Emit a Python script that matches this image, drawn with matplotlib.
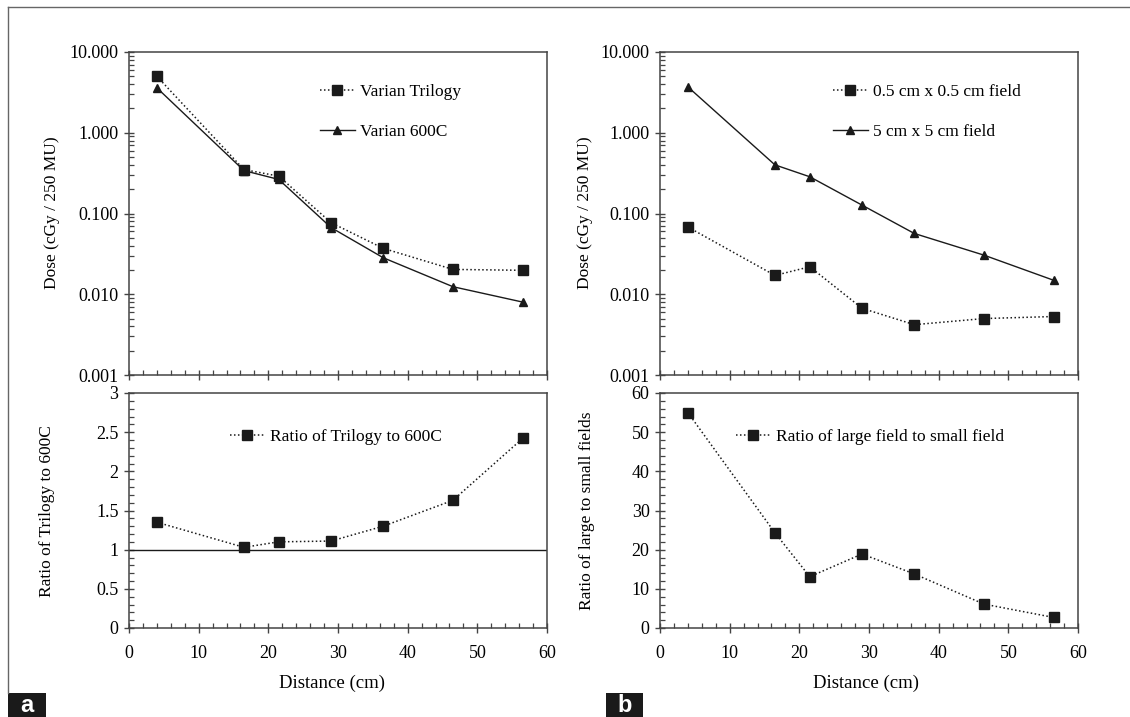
import matplotlib
matplotlib.use("Agg")
import matplotlib.pyplot as plt
from matplotlib.lines import Line2D
from matplotlib.patches import Rectangle
from matplotlib.ticker import FixedLocator, MultipleLocator, FuncFormatter, LogLocator, NullFormatter

plt.rcParams["font.family"] = ["Liberation Serif", "DejaVu Serif"]

distance = [4, 16.5, 21.5, 29, 36.5, 46.5, 56.5]

# panel a
trilogy = [5.0, 0.35, 0.29, 0.077, 0.037, 0.0203, 0.0198]
c600 = [3.6, 0.34, 0.264, 0.067, 0.0283, 0.0124, 0.0080]
ratio_a = [1.35, 1.03, 1.10, 1.11, 1.30, 1.63, 2.42]

# panel b
small_field = [0.068, 0.0171, 0.0219, 0.0067, 0.0042, 0.0050, 0.0053]
large_field = [3.7, 0.40, 0.285, 0.127, 0.0566, 0.0305, 0.0149]
ratio_b = [55.0, 24.3, 13.1, 18.9, 13.8, 6.1, 2.7]

W, H = 1130, 717
fig = plt.figure(figsize=(W / 100, H / 100), dpi=100)

FS = 12.5
TICK_FS = 13
INK = "#1a1a1a"
SPINE = "#444444"
DOT = (0, (1, 1.6))


def fbox(x0, y0, x1, y1):
    # pixel box (top-left origin) -> figure fraction rect
    return [x0 / W, 1 - y1 / H, (x1 - x0) / W, (y1 - y0) / H]


def style(ax, log=False):
    for s in ax.spines.values():
        s.set_color(SPINE)
        s.set_linewidth(1.1)
    ax.set_xlim(0, 60)
    ax.xaxis.set_major_locator(MultipleLocator(10))
    ax.xaxis.set_minor_locator(MultipleLocator(2))
    ax.tick_params(which="major", direction="inout", length=7, width=1.0,
                   color=SPINE, labelsize=TICK_FS, top=False, right=False)
    ax.tick_params(which="minor", direction="in", length=3.5, width=0.9,
                   color=SPINE, top=False, right=False)
    ax.tick_params(axis="y", which="major", pad=4)
    ax.tick_params(axis="x", which="major", pad=9)
    if log:
        ax.set_yscale("log")
        ax.set_ylim(0.001, 10)
        ax.yaxis.set_major_locator(FixedLocator([0.001, 0.01, 0.1, 1, 10]))
        ax.yaxis.set_major_formatter(FuncFormatter(lambda v, p: f"{v:.3f}"))
        ax.yaxis.set_minor_locator(LogLocator(base=10, subs=range(2, 10)))
        ax.yaxis.set_minor_formatter(NullFormatter())
        ax.tick_params(axis="x", labelbottom=False)


def legend(ax, x, y):
    ax.legend(loc="center left", bbox_to_anchor=(x / W, 1 - y / H),
              bbox_transform=fig.transFigure, frameon=False, fontsize=FS,
              numpoints=1, handlelength=2.0, handletextpad=0.3,
              labelspacing=1.35, borderpad=0, borderaxespad=0)


# ---- panel a ----
ax1 = fig.add_axes(fbox(129, 52, 547, 375))
ax1.plot(distance, trilogy, color=INK, ls=DOT, lw=1.1, marker="s", ms=6.5,
         label="Varian Trilogy")
ax1.plot(distance, c600, color=INK, ls="-", lw=1.0, marker="^", ms=6,
         label="Varian 600C")
style(ax1, log=True)
legend(ax1, 320, 112)

ax2 = fig.add_axes(fbox(129, 393, 547, 628))
ax2.axhline(1.0, color=INK, lw=1.0)
ax2.plot(distance, ratio_a, color=INK, ls=DOT, lw=1.1, marker="s", ms=6.5,
         label="Ratio of Trilogy to 600C")
style(ax2)
ax2.set_ylim(0, 3)
ax2.yaxis.set_major_locator(MultipleLocator(0.5))
ax2.yaxis.set_minor_locator(MultipleLocator(0.1))
ax2.yaxis.set_major_formatter(FuncFormatter(lambda v, p: f"{v:g}"))
legend(ax2, 230, 437)

# ---- panel b ----
ax3 = fig.add_axes(fbox(660, 52, 1078, 375))
ax3.plot(distance, small_field, color=INK, ls=DOT, lw=1.1, marker="s", ms=6.5,
         label="0.5 cm x 0.5 cm field")
ax3.plot(distance, large_field, color=INK, ls="-", lw=1.0, marker="^", ms=6,
         label="5 cm x 5 cm field")
style(ax3, log=True)
legend(ax3, 833, 112)

ax4 = fig.add_axes(fbox(660, 393, 1078, 628))
ax4.plot(distance, ratio_b, color=INK, ls=DOT, lw=1.1, marker="s", ms=6.5,
         label="Ratio of large field to small field")
style(ax4)
ax4.set_ylim(0, 60)
ax4.yaxis.set_major_locator(MultipleLocator(10))
ax4.yaxis.set_minor_locator(MultipleLocator(2))
legend(ax4, 736, 437)

# axis labels
fig.text(52 / W, 1 - 213 / H, "Dose (cGy / 250 MU)", rotation=90,
         ha="center", va="center", fontsize=FS)
fig.text(47 / W, 1 - 511 / H, "Ratio of Trilogy to 600C", rotation=90,
         ha="center", va="center", fontsize=FS)
fig.text(585 / W, 1 - 213 / H, "Dose (cGy / 250 MU)", rotation=90,
         ha="center", va="center", fontsize=FS)
fig.text(587 / W, 1 - 511 / H, "Ratio of large to small fields", rotation=90,
         ha="center", va="center", fontsize=FS)
fig.text(332 / W, 1 - 683 / H, "Distance (cm)", ha="center", va="center",
         fontsize=13.5)
fig.text(866 / W, 1 - 683 / H, "Distance (cm)", ha="center", va="center",
         fontsize=13.5)

# outer frame lines
fig.add_artist(Line2D([8 / W, 1], [1 - 7 / H, 1 - 7 / H], color="#666666",
                      lw=1.0, transform=fig.transFigure))
fig.add_artist(Line2D([8 / W, 8 / W], [1 - 7 / H, 1 - 693 / H], color="#666666",
                      lw=1.0, transform=fig.transFigure))

# panel tags
for x0, x1, tag in [(8, 46, "a"), (606, 643, "b")]:
    fig.add_artist(Rectangle((x0 / W, 0), (x1 - x0) / W, 24 / H,
                             facecolor="#1a1a1a", edgecolor="none",
                             transform=fig.transFigure))
    fig.text((x0 + x1) / 2 / W, 12 / H, tag, color="white", ha="center",
             va="center", fontsize=17, fontweight="bold",
             family=["Liberation Sans", "DejaVu Sans"])

fig.savefig("out.png", dpi=100)
